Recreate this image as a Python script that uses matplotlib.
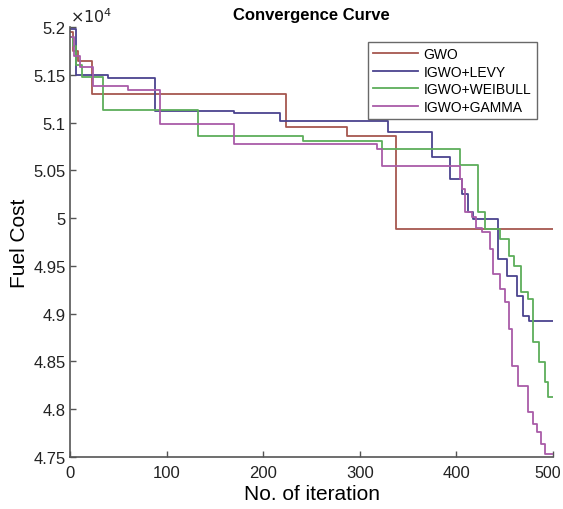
import matplotlib
matplotlib.use("Agg")
import matplotlib.pyplot as plt
import matplotlib.transforms as mtransforms
from matplotlib.ticker import FuncFormatter, FixedLocator

plt.rcParams['font.family'] = ['Liberation Sans', 'DejaVu Sans']

# Step breakpoints (iteration, fuel cost)
gwo_it = [0, 3, 8, 22, 223, 287, 337, 500]
gwo_val = [51950, 51750, 51640, 51300, 50953, 50859, 49886, 49886]

levy_it = [0, 6, 39, 88, 170, 217, 329, 375, 393, 406, 412, 417, 443, 452, 463, 469, 475, 500]
levy_val = [51980, 51500, 51470, 51120, 51100, 51016, 50901, 50640, 50409, 50252, 50064,
            49990, 49572, 49394, 49185, 48976, 48923, 48923]

weib_it = [0, 3, 6, 12, 34, 132, 241, 323, 404, 422, 430, 445, 455, 460, 467, 474, 479, 486,
           492, 495, 500]
weib_val = [51900, 51800, 51600, 51480, 51130, 50859, 50807, 50723, 50556, 50064, 49886,
            49781, 49600, 49499, 49227, 49150, 48700, 48494, 48285, 48128, 48128]

gamma_it = [0, 4, 10, 23, 60, 93, 170, 318, 323, 404, 406, 409, 416, 420, 427, 435, 438, 445,
            450, 455, 458, 464, 474, 479, 484, 488, 492, 500]
gamma_val = [51900, 51700, 51580, 51380, 51340, 50985, 50776, 50723, 50545, 50409, 50305,
             50064, 50012, 49900, 49855, 49677, 49415, 49258, 49122, 48840, 48452, 48243,
             47971, 47850, 47762, 47636, 47531, 47531]

labels = ['GWO', 'IGWO+LEVY', 'IGWO+WEIBULL', 'IGWO+GAMMA']
colors = ['#A6574F', '#4B438F', '#5DAE5A', '#A95CA8']

y_ticks = [47500, 48000, 48500, 49000, 49500, 50000, 50500, 51000, 51500, 52000]
x_ticks = [0, 100, 200, 300, 400, 500]

fig = plt.figure(figsize=(5.63, 5.10), dpi=100)
ax = fig.add_axes([0.125, 0.102, 0.857, 0.843])

series = [(gwo_it, gwo_val), (levy_it, levy_val), (weib_it, weib_val), (gamma_it, gamma_val)]
for (it, val), lab, col in zip(series, labels, colors):
    ax.step(it, val, where='post', color=col, lw=1.3, label=lab)

ax.set_xlim(0, 500)
ax.set_ylim(47500, 52000)
ax.xaxis.set_major_locator(FixedLocator(x_ticks))
ax.yaxis.set_major_locator(FixedLocator(y_ticks))

def yfmt(v, pos):
    s = f"{v/1e4:.2f}".rstrip('0').rstrip('.')
    return s
ax.yaxis.set_major_formatter(FuncFormatter(yfmt))

axcol = '#555555'
for side in ['top', 'right']:
    ax.spines[side].set_visible(False)
for side in ['left', 'bottom']:
    ax.spines[side].set_color(axcol)
    ax.spines[side].set_linewidth(1.2)
ax.tick_params(direction='in', length=4, width=1, colors=axcol, labelcolor='#222222',
               labelsize=12)
ax.tick_params(axis='x', pad=6)

# keep last x label inside the figure
fig.canvas.draw()
last = ax.xaxis.get_major_ticks()[-1].label1
last.set_fontsize(11.5)
last.set_transform(last.get_transform() +
                   mtransforms.ScaledTranslation(-5 / 100, 0, fig.dpi_scale_trans))

ax.text(0.0, 1.005, r'$\times10^4$', transform=ax.transAxes, ha='left', va='bottom',
        fontsize=11.5, color='#222222')

ax.set_title('Convergence Curve', fontsize=12, fontweight='bold', pad=6)
ax.set_xlabel('No. of iteration', fontsize=15, labelpad=3)
ax.set_ylabel('Fuel Cost', fontsize=15, labelpad=3)

leg = ax.legend(loc='upper right', bbox_to_anchor=(0.981, 0.982), fontsize=10,
                frameon=True, fancybox=False, handlelength=3.2, borderpad=0.4,
                labelspacing=0.25, handletextpad=0.4)
leg.get_frame().set_edgecolor('#444444')
leg.get_frame().set_linewidth(1.0)

fig.savefig('out.png', dpi=100)
